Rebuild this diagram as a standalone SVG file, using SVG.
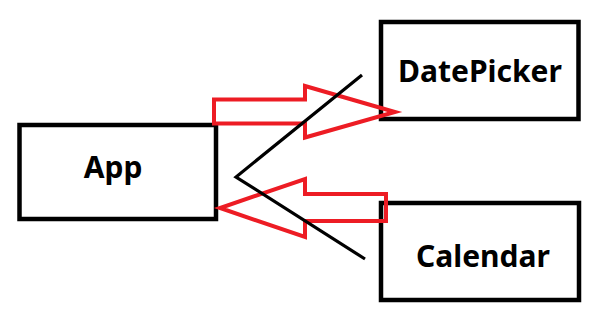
<svg xmlns="http://www.w3.org/2000/svg" width="603" height="314" viewBox="0 0 603 314">
<style>
.box{fill:#fff;stroke:#000;stroke-width:4.5}
.lbl{font-family:"Noto Sans","Open Sans","Liberation Sans",sans-serif;font-weight:bold;font-size:30px;fill:#000;text-anchor:middle}
.arrow{fill:none;stroke:#ED1C24;stroke-width:4;stroke-linejoin:miter}
.line{fill:none;stroke:#000;stroke-width:3.2}
</style>
<rect width="603" height="314" fill="#fff"/>
<g id="app"><rect class="box" x="19.5" y="125" width="196.5" height="94"/><text class="lbl" x="113" y="178">App</text></g>
<g id="datepicker"><rect class="box" x="381" y="22" width="197.5" height="97"/><text class="lbl" x="480" y="82">DatePicker</text></g>
<g id="calendar"><rect class="box" x="381" y="203" width="198" height="97"/><text class="lbl" x="483" y="267">Calendar</text></g>
<g id="connectors">
<polygon class="arrow" points="214,99.5 305,99.5 305,86 395,112 305,137.5 305,123.5 214,123.5"/>
<polygon class="arrow" points="386,194 305,194 305,179 220,208 305,237 305,221 386,221"/>
<polyline class="line" points="362,75 236,177 365,259"/>
</g>
</svg>
